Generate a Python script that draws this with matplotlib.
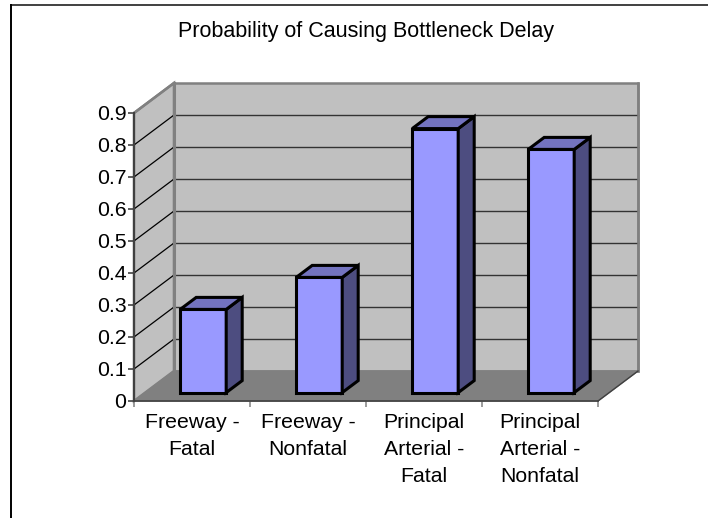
import matplotlib
matplotlib.use('Agg')
import matplotlib.pyplot as plt
from matplotlib.patches import Polygon

plt.rcParams['font.family'] = ['Liberation Sans', 'DejaVu Sans']

categories = ['Freeway -\nFatal', 'Freeway -\nNonfatal',
              'Principal\nArterial -\nFatal', 'Principal\nArterial -\nNonfatal']
values = [0.26, 0.36, 0.825, 0.76]
y_ticks = [0, 0.1, 0.2, 0.3, 0.4, 0.5, 0.6, 0.7, 0.8, 0.9]
y_labels = ['0', '0.1', '0.2', '0.3', '0.4', '0.5', '0.6', '0.7', '0.8', '0.9']

W, H = 708, 518
fig = plt.figure(figsize=(W / 100, H / 100), dpi=100)

# outer chart frame, only top and left are inside the picture
frame = fig.add_axes([0, 0, 1, 1])
frame.set_xlim(0, W)
frame.set_ylim(H, 0)
frame.axis('off')
frame.plot([10.5, 708], [5, 5], color='#404040', lw=1.4)
frame.plot([10.5, 10.5], [518, 5], color='black', lw=1.4)

# the axes is the front plane of the 3d box, depth goes up and to the right
ax = fig.add_axes([134 / W, 1 - 401 / H, 464 / W, 288 / H])
ax.set_xlim(0, 4)
ax.set_ylim(0, 0.9)
ax.patch.set_visible(False)
for s in ax.spines.values():
    s.set_visible(False)

DX = 4 * 40 / 464
DY = 0.9 * 30 / 288
top = 0.9


def pt(x, v, d=0.0):
    return (x + d * DX, v + d * DY)


def poly(points, **kw):
    ax.add_patch(Polygon(points, closed=True, clip_on=False, **kw))


# walls and floor
poly([pt(0, 0, 1), pt(4, 0, 1), pt(4, top, 1), pt(0, top, 1)], fc='#C0C0C0', ec='#808080', lw=1.8, zorder=1)
poly([pt(0, 0, 0), pt(0, 0, 1), pt(0, top, 1), pt(0, top, 0)], fc='#C0C0C0', ec='#808080', lw=1.8, zorder=1)
poly([pt(0, 0, 0), pt(4, 0, 0), pt(4, 0, 1), pt(0, 0, 1)], fc='#808080', ec='#808080', lw=1, zorder=2)

# gridlines on back and side wall
for t in y_ticks[1:-1]:
    ax.plot(*zip(pt(0, t, 1), pt(4, t, 1)), color='#333333', lw=1.0, zorder=2, clip_on=False)
for t in y_ticks[1:]:
    ax.plot(*zip(pt(0, t, 0), pt(0, t, 1)), color='black' if t < 0.9 else '#808080',
            lw=0.9 if t < 0.9 else 1.8, zorder=2, clip_on=False)
ax.plot(*zip(pt(4, top, 1), pt(4, 0, 1)), color='#808080', lw=1.8, zorder=3, clip_on=False)
ax.plot(*zip(pt(0, top, 1), pt(0, 0, 1)), color='#808080', lw=2.2, zorder=2, clip_on=False)

# bars
bar_w = 46 / 116
d0, d1 = 0.28, 0.68
for i, v in enumerate(values):
    x0 = i + 0.5 - bar_w / 2
    x1 = x0 + bar_w
    edge = dict(ec='black', lw=2.2, joinstyle='miter', zorder=5)
    poly([pt(x0, 0, d0), pt(x1, 0, d0), pt(x1, v, d0), pt(x0, v, d0)], fc='#9999FF', **edge)
    poly([pt(x1, 0, d0), pt(x1, 0, d1), pt(x1, v, d1), pt(x1, v, d0)], fc='#4D4D80', **edge)
    poly([pt(x0, v, d0), pt(x1, v, d0), pt(x1, v, d1), pt(x0, v, d1)], fc='#7373BF', **edge)

# front axes lines and ticks
ax.set_yticks(y_ticks)
ax.set_yticklabels(y_labels)
ax.set_xticks(range(5))
ax.set_xticklabels([])
ax.tick_params(axis='y', length=4.5, width=1.1, color='#333333', labelsize=15.3, pad=1)
ax.tick_params(axis='x', length=4.5, width=1.1, color='#808080')
ax.plot([0, 0], [0, top], color='#404040', lw=1.5, zorder=6, clip_on=False)
ax.plot([0, 4], [0, 0], color='#404040', lw=1.2, zorder=6, clip_on=False)
ax.plot(*zip(pt(4, 0, 0), pt(4, 0, 1)), color='#404040', lw=1.0, zorder=6, clip_on=False)

for i, c in enumerate(categories):
    ax.annotate(c, xy=(i + 0.5, 0), xycoords='data', xytext=(0, -9), textcoords='offset points',
                ha='center', va='top', fontsize=15.3, linespacing=1.53, annotation_clip=False)

frame.text(365.5, 32, 'Probability of Causing Bottleneck Delay', ha='center', va='center', fontsize=15.5)

fig.savefig('out.png', dpi=100)
